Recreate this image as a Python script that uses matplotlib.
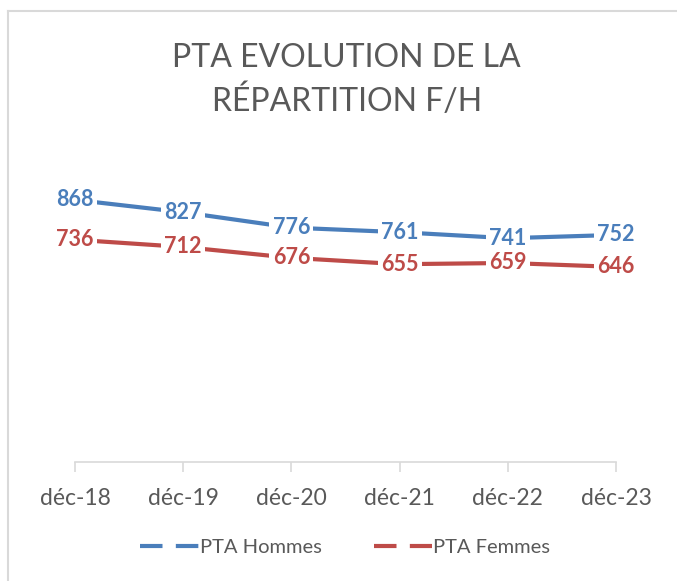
import matplotlib.pyplot as plt
from matplotlib.lines import Line2D

# data
mois = ['déc-18', 'déc-19', 'déc-20', 'déc-21', 'déc-22', 'déc-23']
hommes = [868, 827, 776, 761, 741, 752]
femmes = [736, 712, 676, 655, 659, 646]

bleu = '#4A7EBB'
rouge = '#BE4B48'
gris = '#595959'

plt.rcParams['font.family'] = ['Lato', 'DejaVu Sans']

fig = plt.figure(figsize=(6.77, 5.81), dpi=100)
ax = fig.add_axes([75 / 677, 119 / 581, 541 / 677, 302 / 581])

x = list(range(len(mois)))
for serie, c in [(hommes, bleu), (femmes, rouge)]:
    ax.plot(x, serie, color=c, lw=3, solid_capstyle='butt')
    for xi, v in zip(x, serie):
        ax.text(xi, v, str(v), color=c, fontsize=15.5, fontweight='bold',
                ha='center', va='center',
                bbox=dict(boxstyle='square,pad=0.15', fc='white', ec='none'))

ax.set_xlim(0, 5)
ax.set_ylim(0, 1000)
ax.set_yticks([])
ax.set_xticks(x)
ax.set_xticklabels(mois, fontsize=16.5, color=gris)
for s in ['top', 'right', 'left']:
    ax.spines[s].set_visible(False)
ax.spines['bottom'].set_color('#D9D9D9')
ax.spines['bottom'].set_linewidth(1.2)
ax.tick_params(axis='x', length=7, color='#D9D9D9', width=1.2, pad=12)

fig.text(0.512, 0.862, 'PTA EVOLUTION DE LA\nRÉPARTITION F/H', ha='center',
         va='center', fontsize=23, color=gris, linespacing=1.45)

# tirets de la légende : tiret, espace, tiret qui touche le texte
handles = [Line2D([], [], color=bleu, lw=3, ls=(0, (5.4, 3.2))),
           Line2D([], [], color=rouge, lw=3, ls=(0, (5.4, 3.2)))]
fig.legend(handles, ['PTA Hommes', 'PTA Femmes'], loc='center',
           bbox_to_anchor=(0.51, 0.057), ncol=2, frameon=False,
           fontsize=14.5, labelcolor=gris, handlelength=2.9,
           handletextpad=0.05, columnspacing=2.6)

# cadre du graphique
fig.add_artist(Line2D([8 / 677, 8 / 677], [0, 1 - 11 / 581], color='#D9D9D9', lw=1.5,
                      transform=fig.transFigure))
fig.add_artist(Line2D([8 / 677, 1], [1 - 11 / 581, 1 - 11 / 581], color='#D9D9D9', lw=1.5,
                      transform=fig.transFigure))

fig.savefig('out.png', dpi=100, facecolor='white')
